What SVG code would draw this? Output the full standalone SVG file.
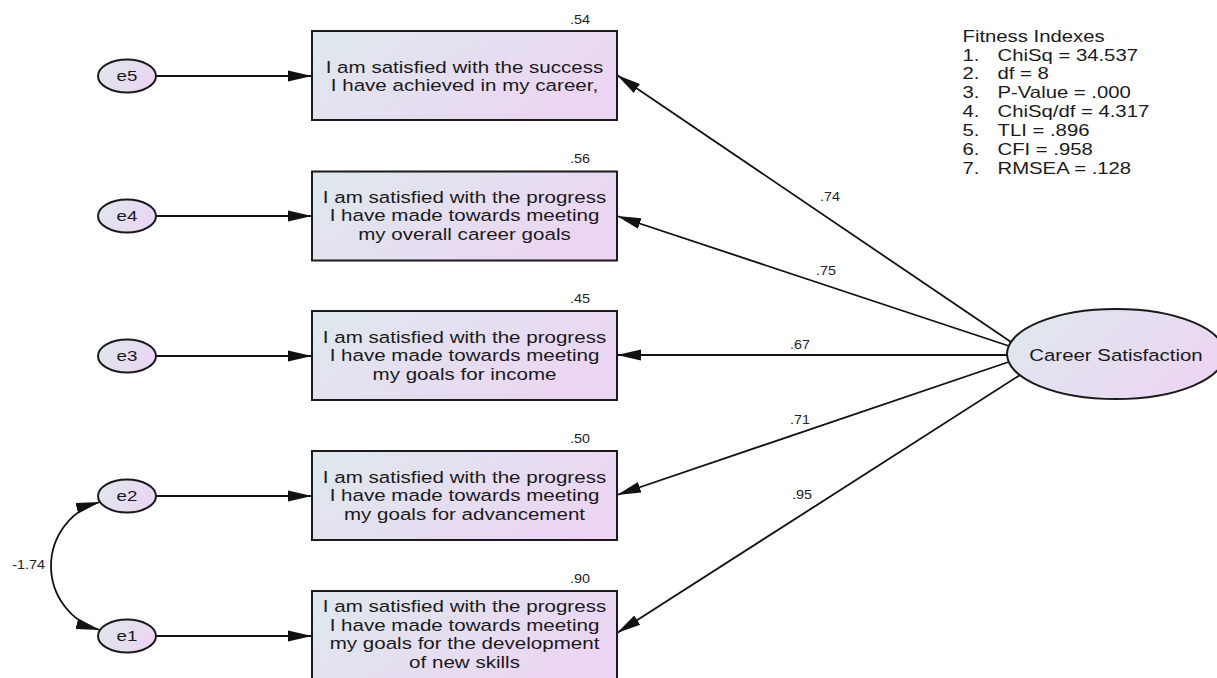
<svg xmlns="http://www.w3.org/2000/svg" width="1217" height="678" viewBox="0 0 1217 678">
<style>
text{font-family:"Liberation Sans",Arial,sans-serif;fill:#1a1a1a}
.bt{font-size:17px;text-anchor:middle}
.et{font-size:15px;text-anchor:middle}
.lt{font-size:12.5px;text-anchor:middle;fill:#222}
.ft{font-size:16.5px}
.box{fill:url(#g);stroke:#1a1a1a;stroke-width:2}
.ell{fill:url(#g);stroke:#1a1a1a;stroke-width:2}
.c{fill:none;stroke:#111;stroke-width:1.8}
</style>
<defs>
<linearGradient id="g" x1="0" y1="0.3" x2="1" y2="0.7">
<stop offset="0" stop-color="#dfe7ed"/>
<stop offset="1" stop-color="#ecd4f3"/>
</linearGradient>
<marker id="a" markerUnits="userSpaceOnUse" markerWidth="26" markerHeight="13" refX="24" refY="5.5" orient="auto-start-reverse" viewBox="0 0 26 11">
<path d="M0,0 L24,5.5 L0,11 z" fill="#111"/>
</marker>
</defs>
<rect width="1217" height="678" fill="#fff"/>

<g id="connectors">
<path class="c" d="M156,76 L312,76" marker-end="url(#a)"/>
<path class="c" d="M156,216 L312,216" marker-end="url(#a)"/>
<path class="c" d="M156,356 L312,356" marker-end="url(#a)"/>
<path class="c" d="M156,496 L312,496" marker-end="url(#a)"/>
<path class="c" d="M156,636 L312,636" marker-end="url(#a)"/>
<path class="c" d="M1011,342 L617,75" marker-end="url(#a)"/>
<path class="c" d="M1009,346 L617,216" marker-end="url(#a)"/>
<path class="c" d="M1007,355 L617,355" marker-end="url(#a)"/>
<path class="c" d="M1008.5,362 L617,495" marker-end="url(#a)"/>
<path class="c" d="M1020,375 L617,633" marker-end="url(#a)"/>
<path class="c" d="M100,502 A66.3,66.3 0 0 0 100,630" marker-start="url(#a)" marker-end="url(#a)"/>
<text class="lt" transform="matrix(1.15 0 0 1 830 0)" x="0" y="201">.74</text>
<text class="lt" transform="matrix(1.15 0 0 1 826 0)" x="0" y="275">.75</text>
<text class="lt" transform="matrix(1.15 0 0 1 800 0)" x="0" y="349">.67</text>
<text class="lt" transform="matrix(1.15 0 0 1 800 0)" x="0" y="424">.71</text>
<text class="lt" transform="matrix(1.15 0 0 1 802 0)" x="0" y="499">.95</text>
<text class="lt" transform="matrix(1.15 0 0 1 28.5 0)" x="0" y="569">-1.74</text>
</g>

<g id="e5"><ellipse class="ell" cx="127" cy="76" rx="29" ry="16.5"/><text class="et" transform="matrix(1.25 0 0 1 127 0)" x="0" y="81.5">e5</text></g>
<g id="e4"><ellipse class="ell" cx="127" cy="216" rx="29" ry="16.5"/><text class="et" transform="matrix(1.25 0 0 1 127 0)" x="0" y="221.5">e4</text></g>
<g id="e3"><ellipse class="ell" cx="127" cy="356" rx="29" ry="16.5"/><text class="et" transform="matrix(1.25 0 0 1 127 0)" x="0" y="361.5">e3</text></g>
<g id="e2"><ellipse class="ell" cx="127" cy="496" rx="29" ry="16.5"/><text class="et" transform="matrix(1.25 0 0 1 127 0)" x="0" y="501.5">e2</text></g>
<g id="e1"><ellipse class="ell" cx="127" cy="636" rx="29" ry="16.5"/><text class="et" transform="matrix(1.25 0 0 1 127 0)" x="0" y="641.5">e1</text></g>

<g id="item5">
<rect class="box" x="312" y="31" width="305" height="89"/>
<text class="lt" transform="matrix(1.15 0 0 1 580 0)" x="0" y="24">.54</text>
<text class="bt" transform="matrix(1.21 0 0 1 464.5 0)"><tspan x="0" y="72.7">I am satisfied with the success</tspan><tspan x="0" y="91.2">I have achieved in my career,</tspan></text>
</g>
<g id="item4">
<rect class="box" x="312" y="171.5" width="305" height="89"/>
<text class="lt" transform="matrix(1.15 0 0 1 580 0)" x="0" y="163">.56</text>
<text class="bt" transform="matrix(1.21 0 0 1 464.5 0)"><tspan x="0" y="203">I am satisfied with the progress</tspan><tspan x="0" y="221.5">I have made towards meeting</tspan><tspan x="0" y="240">my overall career goals</tspan></text>
</g>
<g id="item3">
<rect class="box" x="312" y="311" width="305" height="89"/>
<text class="lt" transform="matrix(1.15 0 0 1 580 0)" x="0" y="303">.45</text>
<text class="bt" transform="matrix(1.21 0 0 1 464.5 0)"><tspan x="0" y="343">I am satisfied with the progress</tspan><tspan x="0" y="361.5">I have made towards meeting</tspan><tspan x="0" y="380">my goals for income</tspan></text>
</g>
<g id="item2">
<rect class="box" x="312" y="451" width="305" height="89"/>
<text class="lt" transform="matrix(1.15 0 0 1 580 0)" x="0" y="443">.50</text>
<text class="bt" transform="matrix(1.21 0 0 1 464.5 0)"><tspan x="0" y="483">I am satisfied with the progress</tspan><tspan x="0" y="501.5">I have made towards meeting</tspan><tspan x="0" y="520">my goals for advancement</tspan></text>
</g>
<g id="item1">
<rect class="box" x="312" y="591" width="305" height="89"/>
<text class="lt" transform="matrix(1.15 0 0 1 580 0)" x="0" y="583">.90</text>
<text class="bt" transform="matrix(1.21 0 0 1 464.5 0)"><tspan x="0" y="612.5">I am satisfied with the progress</tspan><tspan x="0" y="631">I have made towards meeting</tspan><tspan x="0" y="649.5">my goals for the development</tspan><tspan x="0" y="668">of new skills</tspan></text>
</g>

<g id="career">
<ellipse class="ell" cx="1116" cy="354" rx="109" ry="45"/>
<text class="bt" transform="matrix(1.2 0 0 1 1116 0)" x="0" y="361.5">Career Satisfaction</text>
</g>

<g id="fitness">
<text class="ft" transform="matrix(1.23 0 0 1 962.5 0)">
<tspan x="0" y="41.7">Fitness Indexes</tspan>
<tspan x="0" y="60.6">1.</tspan><tspan x="28.5" y="60.6">ChiSq = 34.537</tspan>
<tspan x="0" y="79.5">2.</tspan><tspan x="28.5" y="79.5">df = 8</tspan>
<tspan x="0" y="98.4">3.</tspan><tspan x="28.5" y="98.4">P-Value = .000</tspan>
<tspan x="0" y="117.3">4.</tspan><tspan x="28.5" y="117.3">ChiSq/df = 4.317</tspan>
<tspan x="0" y="136.2">5.</tspan><tspan x="28.5" y="136.2">TLI = .896</tspan>
<tspan x="0" y="155.1">6.</tspan><tspan x="28.5" y="155.1">CFI = .958</tspan>
<tspan x="0" y="174">7.</tspan><tspan x="28.5" y="174">RMSEA = .128</tspan>
</text>
</g>
</svg>
